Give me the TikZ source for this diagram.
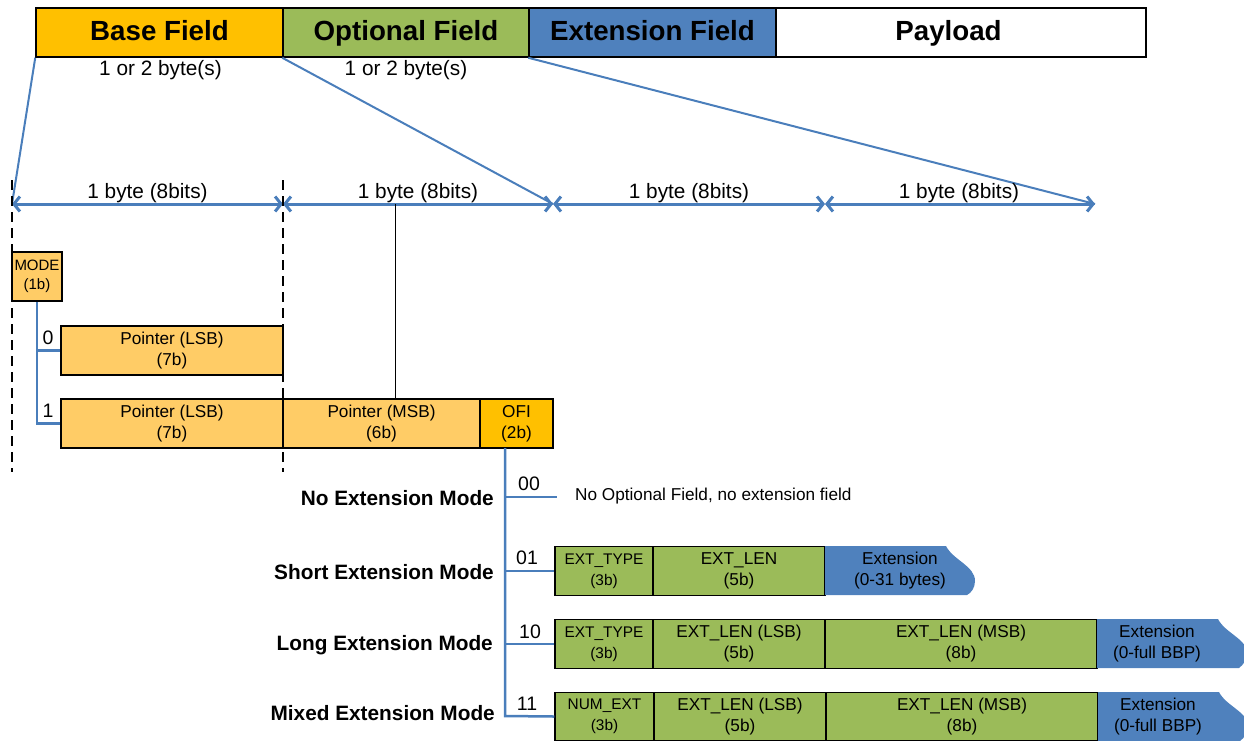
\documentclass[tikz,border=0pt]{standalone}
\usepackage{fontspec}
\setmainfont{Liberation Sans}
\usetikzlibrary{arrows.meta}
\definecolor{basec}{HTML}{FFC000}
\definecolor{optc}{HTML}{9BBB59}
\definecolor{extc}{HTML}{4F81BD}
\definecolor{ptrc}{HTML}{FFCC66}
\definecolor{linec}{HTML}{4A7EBB}
\begin{document}
\begin{tikzpicture}[x=1pt,y=-1pt,
  fbox/.style={draw=black, line width=1.5pt, inner sep=0pt, align=center, minimum height=49pt},
  toplabel/.style={font=\fontsize{27.7}{30}\selectfont\bfseries, text height=20pt, text depth=5pt},
  sizelabel/.style={font=\fontsize{20.8}{23}\selectfont, inner sep=0pt},
  boxtext/.style={font=\fontsize{17.2}{21}\selectfont},
  smalltext/.style={font=\fontsize{15.4}{21}\selectfont},
  modetext/.style={font=\fontsize{15}{19}\selectfont},
  modelabel/.style={font=\fontsize{20.8}{23}\selectfont\bfseries, anchor=east, inner sep=0pt},
  bitlabel/.style={font=\fontsize{19.5}{22}\selectfont, inner sep=0pt},
  blueline/.style={draw=linec, line width=2.5pt},
  diag/.style={draw=linec, line width=2pt},
  ruler/.style={draw=linec, line width=3pt, {Straight Barb[length=6pt,width=15pt]}-{Straight Barb[length=6pt,width=15pt]}},
  dashline/.style={draw=black, line width=1.6pt, dash pattern=on 10pt off 6pt},
]
\useasboundingbox (0,0) rectangle (1244,740);

% top bar
\node[fbox, fill=basec, minimum width=247pt, toplabel] (base) at (159.5,32.5) {Base Field};
\node[fbox, fill=optc, minimum width=246pt, toplabel] (opt) at (406,32.5) {Optional Field};
\node[fbox, fill=extc, minimum width=247pt, toplabel] (ext) at (652.5,32.5) {Extension Field};
\node[fbox, fill=white, minimum width=370pt] (pay) at (961,32.5) {};
\node[toplabel, inner sep=0pt] (paytxt) at (948.5,32.5) {Payload};
\node[sizelabel] (bsz) at (160.5,70) {1 or 2 byte(s)};
\node[sizelabel] (osz) at (406,70) {1 or 2 byte(s)};

% ruler
\coordinate (r0) at (12,204);
\coordinate (r1) at (283,204);
\coordinate (r2) at (553,204);
\coordinate (r3) at (825,204);
\coordinate (r4) at (1095,204);
\coordinate (rm) at (395,204);

\draw[diag] (base.south west) -- (r0);
\draw[diag] (opt.south west) -- (r2);
\draw[diag] (ext.south west) -- (r4);

\draw[ruler] (r0) -- (r1);
\draw[ruler] (r1) -- (r2);
\draw[ruler] (r2) -- (r3);
\draw[ruler] (r3) -- (r4);
\node[sizelabel] (l1) at (147.5,193) {1 byte (8bits)};
\node[sizelabel] (l2) at (418,193) {1 byte (8bits)};
\node[sizelabel] (l3) at (689,193) {1 byte (8bits)};
\node[sizelabel] (l4) at (959,193) {1 byte (8bits)};

% dashed guides
\coordinate (d0t) at (12,180);
\coordinate (d0b) at (12,472);
\coordinate (d1t) at (283,180);
\coordinate (d1b) at (283,472);
\draw[dashline] (d0t) -- (d0b);
\draw[dashline] (d1t) -- (d1b);

% base field detail
\node[fbox, fill=ptrc, minimum width=50pt, modetext] (mode) at (37,276.5) {MODE\\(1b)};
\node[fbox, fill=ptrc, minimum width=222pt, boxtext] (p0) at (172,350.5) {Pointer (LSB)\\(7b)};
\node[fbox, fill=ptrc, minimum width=222pt, boxtext] (p1a) at (172,423.5) {Pointer (LSB)\\(7b)};
\node[fbox, fill=ptrc, minimum width=197pt, boxtext] (p1b) at (381.5,423.5) {Pointer (MSB)\\(6b)};
\node[fbox, fill=basec, minimum width=73pt, boxtext] (ofi) at (516.5,423.5) {OFI\\(2b)};

\draw[blueline] (mode.south) |- (p1a.west);
\draw[blueline] (mode.south |- p0.west) -- (p0.west);
\node[bitlabel] (b0) at (48,338) {0};
\node[bitlabel] (b1) at (48,411) {1};

\draw[black, line width=1pt] (rm) -- (rm |- p1b.north);

% OFI modes
\coordinate (ofib) at (505,448);
\coordinate (m00) at (505,497);
\coordinate (m00e) at (557,497);
\coordinate (m11) at (505,716);

\node[fbox, fill=optc, minimum width=98pt, smalltext] (s1) at (604,571) {EXT\_TYPE\\(3b)};
\node[fbox, fill=optc, minimum width=172pt, boxtext] (s2) at (739,571) {EXT\_LEN\\(5b)};
\fill[extc] (825,546) -- (946,546) .. controls (953,560) and (975,566) .. (975,581) .. controls (975,588) and (971,593) .. (967,595) -- (825,595) -- cycle;
\node[boxtext, align=center] (s3) at (900,571) {Extension\\(0-31 bytes)};

\node[fbox, fill=optc, minimum width=98pt, smalltext] (g1) at (604,644) {EXT\_TYPE\\(3b)};
\node[fbox, fill=optc, minimum width=172pt, boxtext] (g2) at (739,644) {EXT\_LEN (LSB)\\(5b)};
\node[fbox, fill=optc, minimum width=272pt, boxtext] (g3) at (961,644) {EXT\_LEN (MSB)\\(8b)};
\fill[extc] (1097,619) -- (1218,619) .. controls (1225,633) and (1247,639) .. (1247,653) .. controls (1247,660) and (1243,665) .. (1239,668) -- (1097,668) -- cycle;
\node[boxtext, align=center] (g4) at (1157,644) {Extension\\(0-full BBP)};

\node[fbox, fill=optc, minimum width=99pt, minimum height=48pt, smalltext] (x1) at (604.5,716.5) {NUM\_EXT\\(3b)};
\node[fbox, fill=optc, minimum width=172pt, minimum height=48pt, boxtext] (x2) at (740,716.5) {EXT\_LEN (LSB)\\(5b)};
\node[fbox, fill=optc, minimum width=272pt, minimum height=48pt, boxtext] (x3) at (962,716.5) {EXT\_LEN (MSB)\\(8b)};
\fill[extc] (1098,692) -- (1219,692) .. controls (1226,706) and (1248,712) .. (1248,726) .. controls (1248,733) and (1244,738) .. (1240,741) -- (1098,741) -- cycle;
\node[boxtext, align=center] (x4) at (1158,716.5) {Extension\\(0-full BBP)};

\draw[blueline] (ofib) -- (m11) -- (x1.west);
\draw[blueline] (m00) -- (m00e);
\draw[blueline] (ofib |- s1.west) -- (s1.west);
\draw[blueline] (ofib |- g1.west) -- (g1.west);

\node[bitlabel] (c00) at (529,484) {00};
\node[bitlabel] (c01) at (527,558) {01};
\node[bitlabel] (c10) at (530,632) {10};
\node[bitlabel] (c11) at (527,704) {11};

\node[font=\fontsize{17.2}{20}\selectfont, anchor=west, inner sep=0pt] (note) at (575,496) {No Optional Field, no extension field};

\node[modelabel] (ml0) at (494,498) {No Extension Mode};
\node[modelabel] (ml1) at (494,572) {Short Extension Mode};
\node[modelabel] (ml2) at (493,645) {Long Extension Mode};
\node[modelabel] (ml3) at (495,713) {Mixed Extension Mode};
\end{tikzpicture}
\end{document}
